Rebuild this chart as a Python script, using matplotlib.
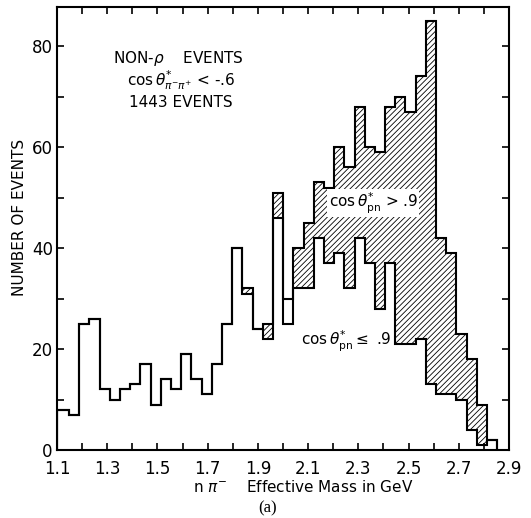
import matplotlib
matplotlib.use('Agg')
import matplotlib.pyplot as plt
import numpy as np

plt.rcParams['font.family'] = ['DejaVu Sans']
plt.rcParams['hatch.linewidth'] = 0.6

# bin grid (GeV): first bin starts at the axis, the rest are regular
first_edge = 1.148
bin_width = 0.0406
n_bins = 43
edges = np.concatenate([[1.10], first_edge + bin_width*np.arange(n_bins)])

# all events (top outline) per bin
total = [8, 7, 25, 26, 12, 10, 12, 13, 17, 9, 14, 12, 19, 14, 11, 17, 25, 40,
         32, 24, 25, 51, 30, 40, 45, 53, 52, 60, 56, 68, 60, 59, 68, 70, 67, 74,
         85, 42, 39, 23, 18, 9, 2]
# events with cos theta*_pn <= .9 (lower outline)
lower = [8, 7, 25, 26, 12, 10, 12, 13, 17, 9, 14, 12, 19, 14, 11, 17, 25, 40,
         31, 24, 22, 46, 25, 32, 32, 42, 37, 39, 32, 42, 37, 28, 37, 21, 21, 22,
         13, 11, 11, 10, 4, 1, 2]
# bins drawn as an open box (no hatching) in the original
no_hatch = [22]

total = np.array(total)
lower = np.array(lower)

fs = 12

fig = plt.figure(figsize=(5.31, 5.18), dpi=100)
ax = fig.add_axes([57/531, 1-450/518, 452/531, (450-7.3)/518])

# hatched part: cos theta*_pn > .9
widths = np.diff(edges)
bars = ax.bar(edges[:-1], total-lower, bottom=lower, width=widths, align='edge',
              fill=False, edgecolor='k', linewidth=0, hatch='//////')
for i in no_hatch:
    bars[i].set_hatch(None)

ax.stairs(total, edges, color='k', linewidth=1.5)
ax.stairs(lower, edges, color='k', linewidth=1.5)

ax.set_xlim(1.1, 2.9)
ax.set_ylim(0, 87.7)
ax.set_xticks(np.arange(1.1, 2.95, 0.1))
ax.set_xticklabels([('%.1f' % v if i % 2 == 0 else '') for i, v in enumerate(np.arange(1.1, 2.95, 0.1))])
ax.set_yticks(np.arange(0, 81, 10))
ax.set_yticklabels([(str(v) if v % 20 == 0 else '') for v in range(0, 81, 10)])
ax.tick_params(direction='in', length=5, width=1.2, top=True, right=True, labelsize=fs)
ax.tick_params(axis='x', pad=7)
ax.tick_params(axis='y', pad=3)
for s in ax.spines.values():
    s.set_linewidth(1.5)

ax.text(1.582, 77.6, r'NON-$\rho$    EVENTS', ha='center', va='center', fontsize=11)
ax.text(1.594, 73.3, r'cos$\,\theta^{*}_{\pi^{-}\pi^{+}}$ < -.6', ha='center', va='center', fontsize=11)
ax.text(1.594, 68.9, '1443 EVENTS', ha='center', va='center', fontsize=11)
ax.text(2.36, 48.9, r'cos$\,\theta^{*}_{\rm pn}$ > .9', ha='center', va='center', fontsize=11,
        bbox=dict(facecolor='white', edgecolor='none', pad=1))
ax.text(2.251, 21.6, r'cos$\,\theta^{*}_{\rm pn}\leq$ .9', ha='center', va='center', fontsize=11)

fig.text(20/531, 1-217/518, 'NUMBER OF EVENTS', rotation=90, ha='center', va='center', fontsize=11)
fig.text(303/531, 1-487/518, r'n $\pi^{-}$    Effective Mass in GeV', ha='center', va='center', fontsize=11)
fig.text(268/531, 1-508/518, '(a)', ha='center', va='center', fontsize=12, family='Liberation Serif')

plt.savefig('out.png', dpi=100)
